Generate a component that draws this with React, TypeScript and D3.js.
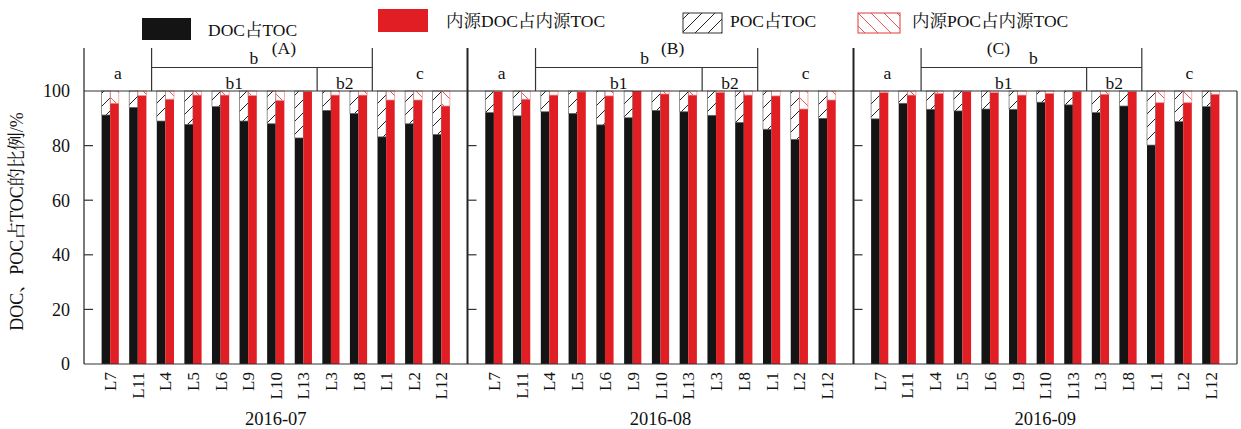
import React from "react";
import * as d3 from "d3";

const categories = ["L7", "L11", "L4", "L5", "L6", "L9", "L10", "L13", "L3", "L8", "L1", "L2", "L12"];
const periods = ["2016-07", "2016-08", "2016-09"];
const panelLabels = ["(A)", "(B)", "(C)"];
const docA = [91.2, 94.0, 89.0, 87.8, 94.3, 89.0, 88.0, 82.8, 92.9, 91.8, 83.2, 88.0, 84.1];
const inDocA = [95.5, 98.3, 97.0, 98.5, 98.5, 98.3, 96.5, 99.8, 98.5, 98.5, 96.7, 96.7, 94.5];
const docB = [92.1, 90.9, 92.4, 91.8, 87.6, 90.2, 92.9, 92.4, 91.1, 88.5, 86.0, 82.3, 90.0];
const inDocB = [99.8, 97.0, 98.5, 99.7, 98.2, 100, 98.9, 98.5, 99.5, 98.5, 98.2, 93.4, 96.7];
const docC = [89.8, 95.5, 93.3, 92.7, 93.4, 93.3, 95.9, 94.9, 92.1, 94.5, 80.2, 88.8, 94.3];
const inDocC = [99.4, 98.5, 99.1, 99.8, 99.4, 98.5, 99.1, 99.8, 98.8, 99.8, 95.7, 95.7, 98.8];
const yTicks = [0, 20, 40, 60, 80, 100];
const legendLabels = ["DOC占TOC", "内源DOC占内源TOC", "POC占TOC", "内源POC占内源TOC"];
const subGroups = [
  { label: "a", from: 0, to: 1 },
  { label: "b1", from: 2, to: 7 },
  { label: "b2", from: 8, to: 9 },
  { label: "c", from: 10, to: 12 },
];
const bGroup = { label: "b", from: 2, to: 9 };

const docSeries = [docA, docB, docC];
const inDocSeries = [inDocA, inDocB, inDocC];

const W = 1241, H = 429;
const TOP = 91, BOTTOM = 364;
const HEAD_TOP = 48, B_LINE = 67.5;
const panelEdges = [84, 467.5, 853.5, 1237];
const FONT = "'Liberation Serif', 'Times New Roman', 'Noto Serif CJK SC', 'Noto Sans CJK SC', serif";
const BLACK = "#141414";
const RED = "#e01e23";
const BW = 8.6;
const FS = 17.5;

export default function App() {
  const y = d3.scaleLinear().domain([0, 100]).range([BOTTOM, TOP]);
  return (
    <svg width={W} height={H} style={{ display: "block", position: "absolute", left: 0, top: 0, background: "#fff" }} fontFamily={FONT}>
      <defs>
        <pattern id="hatchBlack" patternUnits="userSpaceOnUse" width="13" height="13">
          <line x1="0" y1="13" x2="13" y2="0" stroke="#222" strokeWidth="1" />
          <line x1="-6.5" y1="6.5" x2="6.5" y2="-6.5" stroke="#222" strokeWidth="1" />
          <line x1="6.5" y1="19.5" x2="19.5" y2="6.5" stroke="#222" strokeWidth="1" />
        </pattern>
        <pattern id="hatchRed" patternUnits="userSpaceOnUse" width="13" height="13">
          <line x1="0" y1="0" x2="13" y2="13" stroke="#e8595c" strokeWidth="1" />
          <line x1="-6.5" y1="6.5" x2="6.5" y2="19.5" stroke="#e8595c" strokeWidth="1" />
          <line x1="6.5" y1="-6.5" x2="19.5" y2="6.5" stroke="#e8595c" strokeWidth="1" />
        </pattern>
      </defs>

      {/* legend */}
      <rect x={142} y={18} width={49} height={22} fill={BLACK} />
      <text x={208} y={36} fontSize={FS} fill="#111">{legendLabels[0]}</text>
      <rect x={378} y={9} width={50} height={23} fill={RED} />
      <text x={446} y={27} fontSize={FS} fill="#111">{legendLabels[1]}</text>
      <rect x={683} y={13} width={39} height={20} fill="url(#hatchBlack)" stroke="#333" strokeWidth={1} />
      <text x={730} y={27} fontSize={FS} fill="#111">{legendLabels[2]}</text>
      <rect x={858} y={13} width={42} height={20} fill="url(#hatchRed)" stroke="#e23a3d" strokeWidth={1} />
      <text x={912} y={27} fontSize={FS} fill="#111">{legendLabels[3]}</text>

      {/* y axis labels */}
      {yTicks.map((t) => (
        <text key={t} x={70} y={y(t)} dy="0.35em" textAnchor="end" fontSize={18} fill="#111">{t}</text>
      ))}
      <text transform={`translate(23,${(TOP + BOTTOM) / 2 - 6}) rotate(-90)`} textAnchor="middle" fontSize={18} fill="#111">
        DOC、POC占TOC的比例/%
      </text>

      {periods.map((p, pi) => {
        const x0 = panelEdges[pi], x1 = panelEdges[pi + 1];
        const x = d3.scalePoint<string>().domain(categories).range([x0, x1]).padding(0.95);
        const step = x.step();
        const boundary = (i: number) => (x(categories[i]) as number) + step / 2;
        const center = (g: { from: number; to: number }) =>
          ((x(categories[g.from]) as number) + (x(categories[g.to]) as number)) / 2;
        const docs = docSeries[pi];
        const inDocs = inDocSeries[pi];
        const bStart = boundary(bGroup.from - 1);
        const bEnd = boundary(bGroup.to);
        const b2Start = boundary(subGroups[2].from - 1);
        const bCenter = (bStart + bEnd) / 2;
        const bLabelShift = pi === 0 ? -8 : pi === 1 ? -2 : 2;
        const panelLabelX = pi === 0 ? bCenter + 22 : pi === 1 ? bCenter + 26 : bCenter - 33;
        return (
          <g key={p}>
            {categories.map((c, i) => {
              const cx = x(c) as number;
              return (
                <g key={c}>
                  <rect x={cx - BW} y={y(docs[i])} width={BW} height={y(0) - y(docs[i])} fill={BLACK} />
                  <rect x={cx - BW} y={y(100)} width={BW} height={y(docs[i]) - y(100)} fill="url(#hatchBlack)" stroke="#666" strokeWidth={0.7} />
                  <rect x={cx} y={y(inDocs[i])} width={BW} height={y(0) - y(inDocs[i])} fill={RED} />
                  <rect x={cx} y={y(100)} width={BW} height={y(inDocs[i]) - y(100)} fill="url(#hatchRed)" stroke="#ef8a8c" strokeWidth={0.7} />
                  <text
                    transform={`translate(${cx + 6},372) rotate(-90)`}
                    textAnchor="end"
                    fontSize={17}
                    fill="#111"
                  >
                    {c}
                  </text>
                </g>
              );
            })}

            <line x1={x0} x2={x1} y1={TOP} y2={TOP} stroke="#333" strokeWidth={1.2} />
            <line x1={x0} x2={x1} y1={BOTTOM} y2={BOTTOM} stroke="#333" strokeWidth={1.2} />
            <line x1={x0} x2={x0} y1={HEAD_TOP} y2={BOTTOM} stroke="#222" strokeWidth={pi === 0 ? 1.2 : 2} />
            {pi === 2 && <line x1={x1} x2={x1} y1={TOP} y2={BOTTOM} stroke="#333" strokeWidth={1.2} />}
            {yTicks.filter((t) => t > 0 && t < 100).map((t) => (
              <line key={t} x1={x0} x2={x0 + 9} y1={y(t)} y2={y(t)} stroke="#333" strokeWidth={1.2} />
            ))}

            <line x1={bStart} x2={bStart} y1={HEAD_TOP} y2={TOP} stroke="#333" strokeWidth={1.2} />
            <line x1={bEnd} x2={bEnd} y1={HEAD_TOP} y2={TOP} stroke="#333" strokeWidth={1.2} />
            <line x1={bStart} x2={bEnd} y1={B_LINE} y2={B_LINE} stroke="#333" strokeWidth={1.2} />
            <line x1={b2Start} x2={b2Start} y1={B_LINE} y2={TOP} stroke="#333" strokeWidth={1.2} />
            <text x={bCenter + bLabelShift} y={64} textAnchor="middle" fontSize={FS} fill="#111">{bGroup.label}</text>
            <text x={panelLabelX} y={54} textAnchor="middle" fontSize={FS} fill="#111">{panelLabels[pi]}</text>
            {subGroups.map((g, gi) => {
              const isTop = g.label === "a" || g.label === "c";
              let gx = center(g);
              if (g.label === "a") gx = (x0 + bStart) / 2;
              if (g.label === "c") gx = (bEnd + x1) / 2;
              return (
                <text key={gi} x={gx} y={isTop ? 79 : 88.5} textAnchor="middle" fontSize={FS} fill="#111">
                  {g.label}
                </text>
              );
            })}

            <text x={(x0 + x1) / 2} y={425} textAnchor="middle" fontSize={18.5} fill="#111">{p}</text>
          </g>
        );
      })}
    </svg>
  );
}
